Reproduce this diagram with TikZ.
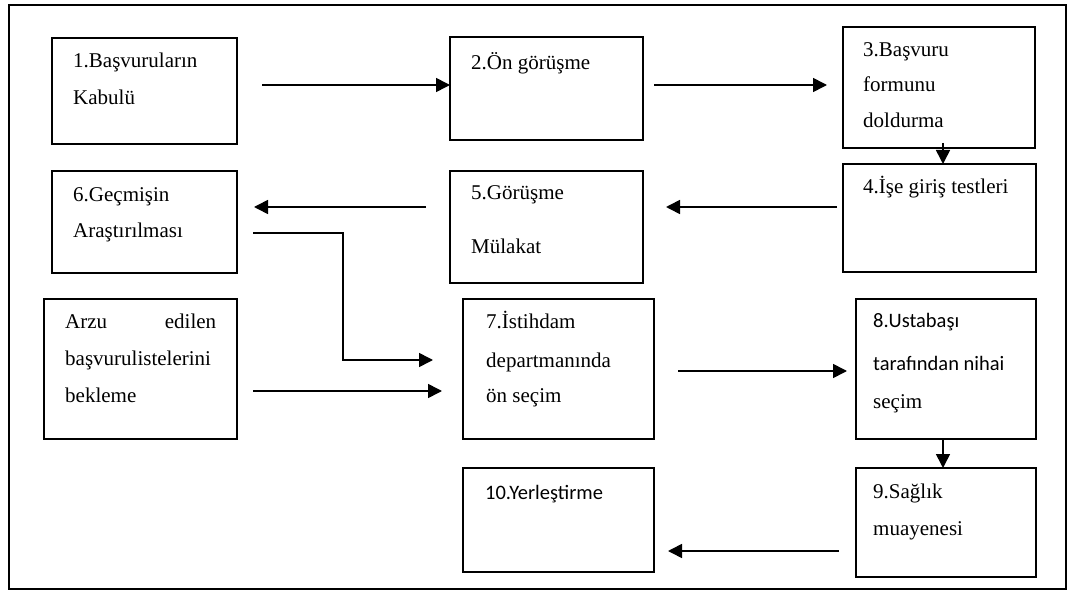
\documentclass[tikz,border=0pt]{standalone}
\usepackage{fontspec}
\setmainfont{Liberation Serif}
\newfontfamily\calfont{Carlito}
\usetikzlibrary{arrows.meta,calc}
\begin{document}
\begin{tikzpicture}[x=1pt,y=-1pt,
  box/.style={draw, line width=1.6pt, anchor=north west, inner sep=0pt, outer sep=0pt},
  txt/.style={anchor=base west, inner sep=0pt, font=\fontsize{21}{25}\selectfont},
  stxt/.style={anchor=base west, inner sep=0pt, font=\calfont\fontsize{20.5}{24}\selectfont},
  arr/.style={line width=1.6pt, -{Triangle[length=14pt,width=14pt]}}]
\useasboundingbox (0,0) rectangle (1072,591);
% outer frame
\draw[line width=2pt] (9,5) rectangle (1066,589);

% boxes
\node[box, minimum width=185pt, minimum height=106pt] (b1) at (52,38) {};
\node[box, minimum width=193pt, minimum height=103pt] (b2) at (450,37) {};
\node[box, minimum width=192pt, minimum height=121pt] (b3) at (843,27) {};
\node[box, minimum width=193pt, minimum height=108pt] (b4) at (843,164) {};
\node[box, minimum width=193pt, minimum height=112pt] (b5) at (450,171) {};
\node[box, minimum width=185pt, minimum height=102pt] (b6) at (52,171) {};
\node[box, minimum width=193pt, minimum height=140pt] (bA) at (44,299) {};
\node[box, minimum width=191pt, minimum height=140pt] (b7) at (463,299) {};
\node[box, minimum width=180pt, minimum height=140pt] (b8) at (856,299) {};
\node[box, minimum width=180pt, minimum height=109pt] (b9) at (856,468) {};
\node[box, minimum width=191pt, minimum height=104pt] (b10) at (463,468) {};

% texts
\node[txt] (t1a) at (73,68) {1.Başvuruların};
\node[txt] (t1b) at (73,105) {Kabulü};
\node[txt] (t2a) at (471,70) {2.Ön görüşme};
\node[txt] (t3a) at (863,57) {3.Başvuru};
\node[txt] (t3b) at (863,92) {formunu};
\node[txt] (t3c) at (863,128) {doldurma};
\node[txt] (t4a) at (863,194) {4.İşe giriş testleri};
\node[txt] (t5a) at (471,200) {5.Görüşme};
\node[txt] (t5b) at (471,253) {Mülakat};
\node[txt] (t6a) at (73,202) {6.Geçmişin};
\node[txt] (t6b) at (73,237) {Araştırılması};
\node[txt] (tAa) at (65,328) {\hbox to 151pt{Arzu\hfill edilen}};
\node[txt] (tAb) at (65,365) {başvurulistelerini};
\node[txt] (tAc) at (65,402) {bekleme};
\node[txt] (t7a) at (486,328) {7.İstihdam};
\node[txt] (t7b) at (486,367) {departmanında};
\node[txt] (t7c) at (486,402) {ön seçim};
\node[stxt] (t8a) at (873,327) {8.Ustabaşı};
\node[stxt] (t8b) at (873,370) {tarafından nihai};
\node[txt] (t8c) at (873,408) {seçim};
\node[txt] (t9a) at (873,498) {9.Sağlık};
\node[txt] (t9b) at (873,535) {muayenesi};
\node[stxt] (t10a) at (485,499) {10.Yerleştirme};

% connectors
\draw[arr] ($(b1.east |- 0,85)+(25,0)$) -- (b2.west |- 0,85);
\draw[arr] ($(b2.east |- 0,85)+(11,0)$) -- ($(b3.west |- 0,85)+(-16,0)$);
\draw[arr] ($(b3.south)+(4,-5)$) -- ($(b4.north)+(3.5,0)$);
\draw[arr] ($(b4.west |- 0,207)+(-6,0)$) -- ($(b5.east |- 0,207)+(23,0)$);
\draw[arr] ($(b5.west |- 0,207)+(-24,0)$) -- ($(b6.east |- 0,207)+(17,0)$);
\draw[arr] ($(b6.east |- 0,233)+(16,0)$) -| (343,360) -- ($(b7.west |- 0,360)+(-30,0)$);
\draw[arr] ($(bA.east |- 0,391)+(16,0)$) -- ($(b7.west |- 0,391)+(-21,0)$);
\draw[arr] ($(b7.east |- 0,371)+(24,0)$) -- ($(b8.west |- 0,371)+(-9,0)$);
\draw[arr] (b8.south -| 943,0) -- (b9.north -| 943,0);
\draw[arr] ($(b9.west |- 0,551)+(-17,0)$) -- ($(b10.east |- 0,551)+(14,0)$);
\end{tikzpicture}
\end{document}
